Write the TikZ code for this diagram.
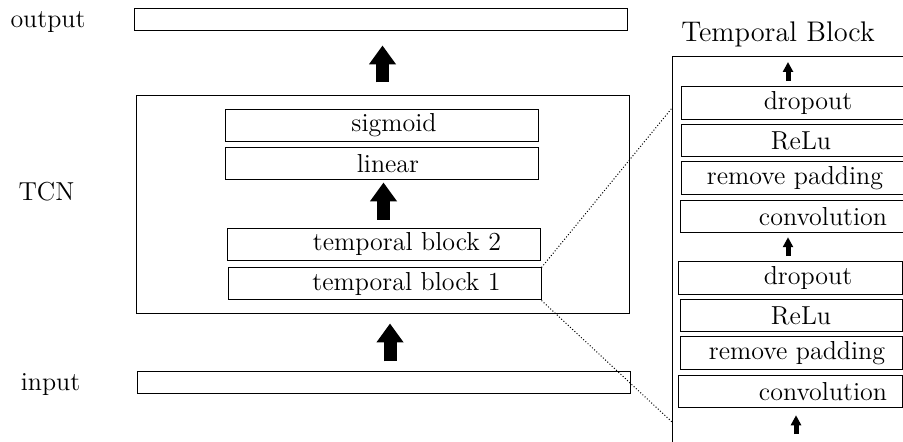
\documentclass[tikz,border=0pt]{standalone}
\usepackage{tikz}
\usetikzlibrary{arrows.meta,calc,positioning}

\begin{document}
\begin{tikzpicture}[x=0.5pt,y=-0.5pt,font=\fontsize{13}{16}\selectfont,
  blk/.style={draw,line width=0.5pt,minimum width=#1,minimum height=16.25pt,inner sep=0pt},
  txt/.style 2 args={label={[xshift=#1]center:#2}},
  fat/.style={line width=6.5pt,-{Triangle[width=13pt,length=9.5pt]}},
  slim/.style={line width=2.5pt,-{Triangle[width=5pt,length=5pt]}},
  zoomline/.style={densely dotted,line width=0.5pt}]
\useasboundingbox (0,0) rectangle (903,442);
\clip (0,0) rectangle (903,442);

% left column
\node (tout) at (48,22) {output};
\node (ttcn) at (46.5,192) {TCN};
\node (tin) at (50.5,385) {input};
\node[blk=246.5pt,minimum height=11pt] (out) at (380.5,20) {};
\node[blk=246.5pt,minimum height=109pt] (tcn) at (382.5,205) {};
\node[blk=246.5pt,minimum height=11pt] (in) at (383.5,383) {};
\node[blk=156.5pt,txt={6.25pt}{sigmoid}] (sig) at (381.5,125.5) {};
\node[blk=156.5pt,minimum height=16pt,txt={3.25pt}{linear}] (lnr) at (381.5,164) {};
\node[blk=156.5pt,txt={11.75pt}{temporal block 2}] (tb2) at (383.5,244.5) {};
\node[blk=156.5pt,minimum height=16pt,txt={11pt}{temporal block 1}] (tb1) at (384.5,284) {};
\draw[fat,shorten <=6.5pt,shorten >=7pt] (tcn.north) -- (tcn.north |- out.south);
\draw[fat,shorten <=4pt,shorten >=1pt] (tb2.north) -- (tb2.north |- lnr.south);
\draw[fat,shorten <=5pt,shorten >=4.5pt] ($(in.north)+(3.25pt,0)$) -- ($(in.north |- tcn.south)+(3.25pt,0)$);

% temporal block
\node (ttb) at (778,34) {\fontsize{14.2}{17}\selectfont Temporal Block};
\node[draw,line width=0.5pt,minimum width=119pt,minimum height=196.5pt,inner sep=0pt] (tbk) at (791,253.5) {};
\foreach \nm/\cx/\cy/\bw/\dx/\tx in {d1/793/103/112/7.5/dropout, r1/793.5/140.5/112/3.75/ReLu,
    p1/793.5/178/112/0.75/remove padding, c1/792.5/216.5/112.5/15.25/convolution,
    d2/790/278/112/9/dropout, r2/791/315.5/111/5/ReLu,
    p2/791/353/111/3/remove padding, c2/790/391.5/112/16.5/convolution}
  \node[blk=\bw pt,txt={\dx pt}{\tx}] (\nm) at (\cx,\cy) {};
\coordinate (tbout) at (788,62);
\coordinate (tbin) at (796,434);
\draw[slim,shorten <=2.5pt] (d1.north -| tbout) -- (tbout);
\draw[slim,shorten <=2.5pt,shorten >=2pt] (d2.north -| tbout) -- (c1.south -| tbout);
\draw[slim,shorten >=3.5pt] (tbin) -- (c2.south -| tbin);

% zoom lines
\coordinate (zt) at (672,108);
\coordinate (zb) at (672,422);
\draw[zoomline] (tb1.north east) -- (zt);
\draw[zoomline] (tb1.south east) -- (zb);
\end{tikzpicture}
\end{document}
